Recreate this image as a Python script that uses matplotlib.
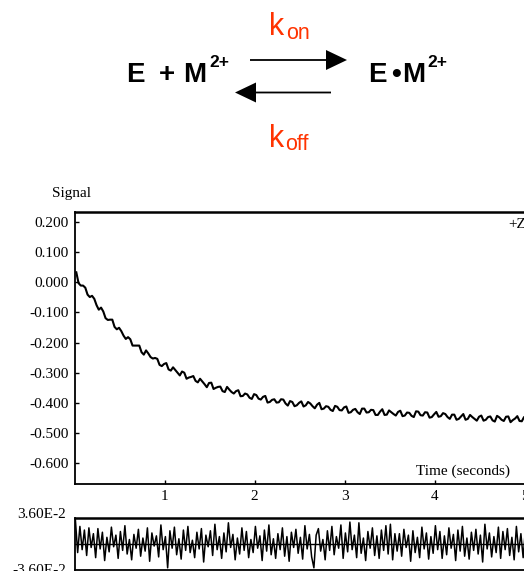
import numpy as np
import matplotlib
matplotlib.use("Agg")
import matplotlib.pyplot as plt
from matplotlib.patches import FancyArrow

# ---------------- data ----------------
t0_signal, dt_signal = 0.02, 0.025
signal = [0.033, -0.003, -0.011, -0.011, -0.018, -0.041, -0.049, -0.045, -0.055, -0.076,
          -0.091, -0.084, -0.097, -0.119, -0.125, -0.124, -0.124, -0.148, -0.156, -0.151,
          -0.162, -0.177, -0.188, -0.182, -0.189, -0.210, -0.210, -0.210, -0.210, -0.232,
          -0.240, -0.226, -0.236, -0.248, -0.253, -0.251, -0.254, -0.274, -0.278, -0.271,
          -0.268, -0.289, -0.293, -0.282, -0.291, -0.300, -0.309, -0.296, -0.300, -0.320,
          -0.316, -0.314, -0.311, -0.327, -0.332, -0.320, -0.329, -0.338, -0.348, -0.334,
          -0.333, -0.354, -0.350, -0.347, -0.346, -0.361, -0.364, -0.347, -0.356, -0.364,
          -0.369, -0.361, -0.358, -0.378, -0.377, -0.369, -0.372, -0.383, -0.387, -0.371,
          -0.374, -0.386, -0.389, -0.380, -0.377, -0.399, -0.397, -0.390, -0.388, -0.399,
          -0.398, -0.388, -0.389, -0.402, -0.409, -0.394, -0.397, -0.411, -0.408, -0.400,
          -0.395, -0.412, -0.408, -0.397, -0.402, -0.411, -0.418, -0.406, -0.400, -0.421,
          -0.419, -0.411, -0.413, -0.423, -0.427, -0.410, -0.413, -0.424, -0.425, -0.415,
          -0.412, -0.433, -0.431, -0.423, -0.420, -0.431, -0.437, -0.419, -0.419, -0.432,
          -0.431, -0.423, -0.424, -0.440, -0.440, -0.429, -0.421, -0.440, -0.439, -0.425,
          -0.431, -0.437, -0.442, -0.430, -0.426, -0.444, -0.442, -0.432, -0.433, -0.443,
          -0.447, -0.428, -0.429, -0.441, -0.442, -0.431, -0.432, -0.449, -0.447, -0.438,
          -0.430, -0.446, -0.444, -0.434, -0.437, -0.447, -0.453, -0.439, -0.439, -0.456,
          -0.453, -0.445, -0.437, -0.456, -0.453, -0.440, -0.447, -0.453, -0.459, -0.446,
          -0.442, -0.459, -0.456, -0.447, -0.445, -0.458, -0.462, -0.443, -0.448, -0.456,
          -0.460, -0.446, -0.445, -0.464, -0.457, -0.452, -0.444, -0.460, -0.461, -0.447,
          -0.450, -0.460, -0.464]

t0_resid, dt_resid = 0.01, 0.025
resid_e2 = [3.3, -1.2, 2.4, -0.8, 1.9, -1.6, 2.2, -0.5, 1.4, -1.9,
            2.1, -0.7, 1.6, -2.3, 0.9, -1.1, 2.3, -0.4, 1.2, -2.0,
            1.7, -0.9, 2.5, -1.4, 0.6, -2.2, 1.3, -0.6, 2.0, -1.7,
            0.8, -1.0, 2.2, -2.4, 1.5, -0.3, 1.1, -1.8, 2.6, -0.8,
            1.0, -3.3, 1.8, -0.6, 2.3, -1.5, 0.7, -2.1, 1.9, -0.9,
            2.4, -1.2, 0.5, -1.9, 1.6, -0.7, 2.1, -2.5, 1.2, -0.4,
            1.8, -1.6, 2.7, -0.8, 1.0, -2.0, 1.5, -1.1, 2.9, -0.5,
            1.3, -2.2, 0.8, -1.4, 2.2, -0.9, 1.7, -1.9, 0.6, -1.2,
            2.4, -0.6, 1.1, -2.3, 1.9, -1.0, 2.6, -1.5, 0.7, -2.0,
            1.4, -0.8, 2.2, -1.7, 1.0, -2.4, 1.6, -0.5, 2.0, -1.3,
            0.9, -2.1, 2.5, -0.7, 1.3, -1.8, -3.3, 1.2, 2.1, -1.0,
            0.6, -2.2, 1.8, -0.9, 2.4, -1.5, 1.0, -0.6, 2.6, -2.0,
            1.5, -1.1, 3.0, -0.8, 1.2, -1.9, 2.9, -1.3, 0.8, -2.3,
            1.7, -0.6, 2.2, -1.6, 1.1, -2.0, 1.9, -0.9, 2.5, -1.4,
            2.7, -2.2, 1.4, -1.0, 1.4, -1.7, 2.0, -0.5, 1.2, -2.4,
            1.8, -1.2, 0.9, -1.9, 2.3, -0.7, 1.5, -2.1, 1.0, -1.3,
            2.5, -0.8, 1.7, -2.0, 1.1, -1.5, 2.2, -0.6, 1.3, -2.3,
            1.9, -1.0, 2.4, -1.7, 0.8, -2.1, 1.6, -0.9, 2.0, -1.4,
            1.2, -2.5, 2.7, -0.7, 1.5, -1.8, 1.0, -1.2, 2.3, -2.0,
            1.7, -0.8, 2.1, -1.6, 0.9, -2.2, 2.4, -1.1, 1.4, -1.9,
            2.0, -0.7, 1.5, -1.5, 1.1]

x_ticks = [1, 2, 3, 4, 5]
y_ticks = [0.2, 0.1, 0.0, -0.1, -0.2, -0.3, -0.4, -0.5, -0.6]
y_ticklabels = ["0.200", "0.100", "0.000", "-0.100", "-0.200", "-0.300",
                "-0.400", "-0.500", "-0.600"]
resid_lim = 0.036
resid_labels = ["3.60E-2", "-3.60E-2"]

# ---------------- figure ----------------
W, H = 524, 571
fig = plt.figure(figsize=(W / 100, H / 100), dpi=100)
serif = ["Liberation Serif", "DejaVu Serif"]
sans = ["Liberation Sans", "DejaVu Sans"]
red = "#FF3300"
fs = 11

t_sig = t0_signal + dt_signal * np.arange(len(signal))
t_res = t0_resid + dt_resid * np.arange(len(resid_e2))
resid = np.array(resid_e2) * 1e-2

x_min, x_max = 0.0, 5.1
px_per_s = 90.0
left_px = 74.5
right_px = left_px + (x_max - x_min) * px_per_s

def fax(l, t, r, b):
    return [l / W, 1 - b / H, (r - l) / W, (b - t) / H]

# main axes
ax = fig.add_axes(fax(left_px, 212.3, right_px, 484.3))
ax.plot(t_sig, signal, color="black", lw=1.5)
ax.set_xlim(x_min, x_max)
ax.set_ylim(-0.670, 0.232)
ax.set_xticks(x_ticks)
ax.set_xticklabels([str(v) for v in x_ticks], fontfamily=serif, fontsize=fs)
ax.set_yticks(y_ticks)
ax.set_yticklabels(y_ticklabels, fontfamily=serif, fontsize=fs)
ax.tick_params(direction="in", length=3, width=1.0, pad=4)
ax.spines["top"].set_linewidth(1.8)
ax.spines["left"].set_linewidth(1.3)
ax.spines["bottom"].set_linewidth(1.3)
ax.spines["right"].set_linewidth(1.3)

# residual axes
ax2 = fig.add_axes(fax(left_px, 517.7, right_px, 570.0))
ax2.plot(t_res, resid, color="black", lw=1.1)
ax2.axhline(0, color="black", lw=1.0)
ax2.set_xlim(x_min, x_max)
ax2.set_ylim(-resid_lim, resid_lim)
ax2.set_xticks([])
ax2.set_yticks([])
ax2.spines["top"].set_linewidth(1.8)
for s in ("left", "bottom", "right"):
    ax2.spines[s].set_linewidth(1.3)

# overlay in pixel coordinates
ov = fig.add_axes([0, 0, 1, 1])
ov.set_xlim(0, W)
ov.set_ylim(H, 0)
ov.axis("off")

ov.text(71.5, 194, "Signal", fontfamily=serif, fontsize=fs, ha="center", va="center")
ov.text(463.5, 471.5, "Time (seconds)", fontfamily=serif, fontsize=fs, ha="center", va="center")
ov.text(508, 224, "+Z", fontfamily=serif, fontsize=fs, ha="left", va="center")
ov.text(66, 515, resid_labels[0], fontfamily=serif, fontsize=fs, ha="right", va="center")
ov.text(66, 570, resid_labels[1], fontfamily=serif, fontsize=fs, ha="right", va="center")

# reaction scheme
bold = dict(fontfamily=sans, fontweight="bold", va="baseline", color="black")
ov.text(126, 82, "E", fontsize=20, ha="left", **bold)
ov.text(166.5, 82, "+", fontsize=20, ha="center", **bold)
ov.text(183, 82, "M", fontsize=20, ha="left", **bold)
ov.text(209, 67, "2+", fontsize=12.5, ha="left", **bold)
ov.text(368, 82, "E", fontsize=20, ha="left", **bold)
ov.text(396, 82, "\u2022", fontsize=20, ha="center", **bold)
ov.text(402, 82, "M", fontsize=20, ha="left", **bold)
ov.text(427, 67, "2+", fontsize=12.5, ha="left", **bold)

ov.text(269, 35, "k", fontfamily=sans, fontsize=22, color=red, ha="left", va="baseline")
ov.text(286, 39, "on", fontfamily=sans, fontsize=15.5, color=red, ha="left", va="baseline")
ov.text(269, 147, "k", fontfamily=sans, fontsize=22, color=red, ha="left", va="baseline")
ov.text(285, 150, "off", fontfamily=sans, fontsize=15.5, color=red, ha="left", va="baseline")

ov.add_patch(FancyArrow(250, 60, 97, 0, width=1.8, head_width=20, head_length=21,
                        length_includes_head=True, color="black", lw=0))
ov.add_patch(FancyArrow(331, 92.5, -96, 0, width=1.8, head_width=20, head_length=21,
                        length_includes_head=True, color="black", lw=0))

fig.savefig("out.png", dpi=100)
